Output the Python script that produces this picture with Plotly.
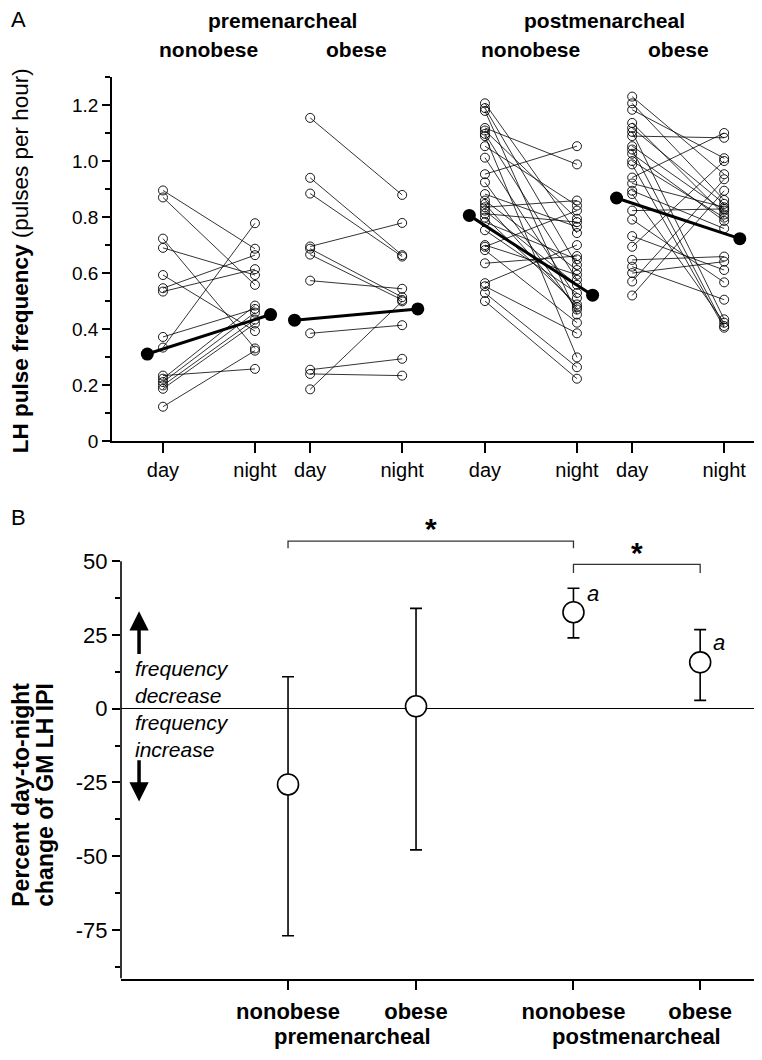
import plotly.graph_objects as go

# ---------------- Panel A data (LH pulse frequency, pulses per hour) ----------------
pre_non_day   = [0.896, 0.871, 0.724, 0.691, 0.594, 0.547, 0.535, 0.373, 0.335, 0.235, 0.224, 0.212, 0.200, 0.188, 0.124]
pre_non_night = [0.688, 0.559, 0.332, 0.594, 0.394, 0.665, 0.615, 0.473, 0.779, 0.259, 0.485, 0.460, 0.435, 0.421, 0.324]

pre_ob_day   = [1.155, 0.941, 0.885, 0.696, 0.688, 0.667, 0.574, 0.386, 0.256, 0.241, 0.186]
pre_ob_night = [0.880, 0.665, 0.660, 0.780, 0.515, 0.505, 0.545, 0.415, 0.295, 0.235, 0.500]

post_non_day = [1.207, 1.190, 1.180, 1.119, 1.110, 1.098, 1.090, 1.054, 1.013, 0.954, 0.925, 0.883, 0.860, 0.848,
                0.836, 0.824, 0.813, 0.799, 0.783, 0.754, 0.701, 0.695, 0.683, 0.636, 0.565, 0.554, 0.530, 0.501]
post_non_night = [0.744, 0.630, 0.453, 0.989, 0.795, 0.577, 0.300, 0.842, 0.512, 1.054, 0.471, 0.766, 0.612, 0.479,
                  0.860, 0.559, 0.783, 0.489, 0.650, 0.530, 0.595, 0.824, 0.424, 0.662, 0.701, 0.386, 0.265, 0.224]

post_ob_day = [1.231, 1.207, 1.184, 1.137, 1.119, 1.105, 1.090, 1.054, 1.042, 1.027, 1.001, 0.989, 0.942,
               0.921, 0.895, 0.883, 0.824, 0.792, 0.733, 0.695, 0.648, 0.624, 0.601, 0.571, 0.521]
post_ob_night = [0.954, 0.862, 1.011, 0.810, 0.848, 0.436, 1.084, 0.824, 0.412, 0.787, 0.799, 0.406, 1.101,
                 0.836, 0.760, 0.424, 0.830, 0.568, 0.612, 1.001, 0.660, 0.506, 0.642, 0.936, 0.895]

mean_day   = [0.312, 0.433, 0.807, 0.869]
mean_night = [0.453, 0.473, 0.522, 0.724]

day_pos   = [0, 1.6, 3.5, 5.1]
night_pos = [1, 2.6, 4.5, 6.1]
mean_shift = 0.17
group_names = ["nonobese", "obese", "nonobese", "obese"]
stage_names = ["premenarcheal", "postmenarcheal"]

# ---------------- Panel B data (percent day-to-night change of GM LH IPI) ----------------
b_pos    = [1, 2, 3.23, 4.22]
b_mean   = [-25.7, 0.8, 32.7, 15.7]
b_upper  = [10.8, 34.0, 40.8, 26.8]
b_lower  = [-77.0, -47.9, 24.0, 2.8]
b_letter = ["", "", "a", "a"]
b_letter_y = [None, None, 39.0, 22.5]

FONT = "Liberation Sans, Arial, sans-serif"
fig = go.Figure()

day_sets = [pre_non_day, pre_ob_day, post_non_day, post_ob_day]
night_sets = [pre_non_night, pre_ob_night, post_non_night, post_ob_night]
for g in range(4):
    xs, ys = [], []
    for d, n in zip(day_sets[g], night_sets[g]):
        xs += [day_pos[g], night_pos[g], None]
        ys += [d, n, None]
    fig.add_trace(go.Scatter(x=xs, y=ys, mode="lines+markers", xaxis="x", yaxis="y",
                             line=dict(color="black", width=0.8),
                             marker=dict(symbol="circle-open", size=9, color="black", line=dict(width=0.9)),
                             showlegend=False, hoverinfo="skip"))
for g in range(4):
    fig.add_trace(go.Scatter(x=[day_pos[g] - mean_shift, night_pos[g] + mean_shift],
                             y=[mean_day[g], mean_night[g]], mode="lines+markers", xaxis="x", yaxis="y",
                             line=dict(color="black", width=3),
                             marker=dict(symbol="circle", size=13, color="black"),
                             showlegend=False, hoverinfo="skip"))

# Panel B points
fig.add_trace(go.Scatter(
    x=b_pos, y=b_mean, mode="markers", xaxis="x2", yaxis="y2",
    marker=dict(symbol="circle", size=21, color="white", line=dict(color="black", width=1.6)),
    error_y=dict(type="data", symmetric=False,
                 array=[u - m for u, m in zip(b_upper, b_mean)],
                 arrayminus=[m - l for m, l in zip(b_mean, b_lower)],
                 color="black", thickness=1.6, width=6),
    showlegend=False, hoverinfo="skip"))

# significance brackets
br1_x = [b_pos[0], b_pos[0], b_pos[2], b_pos[2]]
br1_y = [54.4, 56.8, 56.8, 54.4]
br2_x = [b_pos[2], b_pos[2], b_pos[3], b_pos[3]]
br2_y = [46.0, 48.9, 48.9, 46.0]
for bx, by in [(br1_x, br1_y), (br2_x, br2_y)]:
    fig.add_trace(go.Scatter(x=bx, y=by, mode="lines", xaxis="x2", yaxis="y2",
                             line=dict(color="#333333", width=1.3), showlegend=False, hoverinfo="skip"))

# page offsets (page body margin): horizontal 8 px, vertical ~2 px
OX, OY = 8, 2
W, H = 762 - OX, 1060 - OY


def px(X):
    return (X - OX) / W


def py(Y):
    return 1 - (Y - OY) / H


ann = []
# Panel letters
ann.append(dict(text="A", x=px(9), y=py(14), xref="paper", yref="paper", xanchor="left", yanchor="middle",
                showarrow=False, font=dict(size=22, family=FONT)))
ann.append(dict(text="B", x=px(9), y=py(517), xref="paper", yref="paper", xanchor="left", yanchor="middle",
                showarrow=False, font=dict(size=22, family=FONT)))
# Panel A headers
for g in range(4):
    ann.append(dict(text="<b>%s</b>" % group_names[g], x=(day_pos[g] + night_pos[g]) / 2, y=py(44),
                    xref="x", yref="paper", showarrow=False, yanchor="middle",
                    font=dict(size=21, family=FONT)))
for s in range(2):
    ann.append(dict(text="<b>%s</b>" % stage_names[s],
                    x=(day_pos[2 * s] + night_pos[2 * s + 1]) / 2, y=py(15),
                    xref="x", yref="paper", showarrow=False, yanchor="middle",
                    font=dict(size=21, family=FONT)))
# Panel A y title
ann.append(dict(text="<b>LH pulse frequency</b> (pulses per hour)", x=px(20), y=py(258),
                xref="paper", yref="paper", textangle=-90, showarrow=False,
                xanchor="center", yanchor="middle", font=dict(size=22.5, family=FONT)))
# Panel B y title (two lines)
ann.append(dict(text="<b>Percent day-to-night</b>", x=px(21), y=py(797), xref="paper", yref="paper",
                textangle=-90, showarrow=False, xanchor="center", yanchor="middle",
                font=dict(size=23, family=FONT)))
ann.append(dict(text="<b>change of GM LH IPI</b>", x=px(45), y=py(797), xref="paper", yref="paper",
                textangle=-90, showarrow=False, xanchor="center", yanchor="middle",
                font=dict(size=23, family=FONT)))
# Panel B group labels
for s in range(2):
    ann.append(dict(text="<b>%s</b>" % stage_names[s], x=(b_pos[2 * s] + b_pos[2 * s + 1]) / 2, y=py(1041),
                    xref="x2", yref="paper", showarrow=False, yanchor="middle",
                    font=dict(size=22, family=FONT)))
# asterisks
ann.append(dict(text="<b>*</b>", x=(b_pos[0] + b_pos[2]) / 2, y=61.0, xref="x2", yref="y2",
                showarrow=False, font=dict(size=30, family=FONT)))
ann.append(dict(text="<b>*</b>", x=(b_pos[2] + b_pos[3]) / 2, y=53.0, xref="x2", yref="y2",
                showarrow=False, font=dict(size=30, family=FONT)))
# letters "a"
for i in range(4):
    if b_letter[i]:
        ann.append(dict(text="<i>%s</i>" % b_letter[i], x=b_pos[i] + 0.15, y=b_letter_y[i],
                        xref="x2", yref="y2", showarrow=False, xanchor="center",
                        font=dict(size=22, family=FONT)))
# direction arrows and texts
ann.append(dict(text="", x=-0.164, y=33.0, ax=-0.164, ay=18.0, xref="x2", yref="y2", axref="x2", ayref="y2",
                showarrow=True, arrowhead=2, arrowsize=1.1, arrowwidth=3.5, arrowcolor="black"))
ann.append(dict(text="", x=-0.164, y=-31.5, ax=-0.164, ay=-17.0, xref="x2", yref="y2", axref="x2", ayref="y2",
                showarrow=True, arrowhead=2, arrowsize=1.1, arrowwidth=3.5, arrowcolor="black"))
ann.append(dict(text="<i>frequency<br>decrease</i>", x=-0.215, y=8.9, xref="x2", yref="y2",
                showarrow=False, xanchor="left", align="left", yanchor="middle",
                font=dict(size=21, family=FONT)))
ann.append(dict(text="<i>frequency<br>increase</i>", x=-0.215, y=-9.3, xref="x2", yref="y2",
                showarrow=False, xanchor="left", align="left", yanchor="middle",
                font=dict(size=21, family=FONT)))

shapes = [dict(type="line", xref="x2 domain", yref="y2", x0=0, x1=0, y0=-91.5, y1=50,
               line=dict(color="black", width=1.6))]

fig.update_layout(
    width=W, height=H, margin=dict(l=0, r=0, t=0, b=0),
    paper_bgcolor="white", plot_bgcolor="white",
    font=dict(family=FONT, color="black"),
    annotations=ann, shapes=shapes,
    xaxis=dict(domain=[px(112), px(757)], range=[-0.554, 6.457], anchor="y",
               tickvals=day_pos + night_pos, ticktext=["day"] * 4 + ["night"] * 4,
               ticks="outside", ticklen=10, tickwidth=1.5, tickcolor="black",
               showline=True, linewidth=1.6, linecolor="black", showgrid=False, zeroline=False,
               tickfont=dict(size=20, family=FONT)),
    yaxis=dict(domain=[py(440), py(72)], range=[0, 1.3], anchor="x",
               tickvals=[0, 0.2, 0.4, 0.6, 0.8, 1.0, 1.2],
               ticktext=["0", "0.2", "0.4", "0.6", "0.8", "1.0", "1.2"],
               ticks="outside", ticklen=8, tickwidth=1.5, tickcolor="black",
               minor=dict(tickvals=[0.1, 0.3, 0.5, 0.7, 0.9, 1.1, 1.3], ticks="outside", ticklen=5,
                          tickwidth=1.5, tickcolor="black"),
               showline=True, linewidth=1.6, linecolor="black", showgrid=False, zeroline=False,
               tickfont=dict(size=19, family=FONT)),
    xaxis2=dict(domain=[px(121), px(757)], range=[-0.305, 4.664], anchor="y2",
                tickvals=b_pos, ticktext=["<b>%s</b>" % n for n in group_names],
                ticks="outside", ticklen=10, tickwidth=1.5, tickcolor="black",
                showline=True, linewidth=1.6, linecolor="black", showgrid=False, zeroline=False,
                tickfont=dict(size=22, family=FONT), ticklabelstandoff=2),
    yaxis2=dict(domain=[py(982.7), py(516.3)], range=[-91.5, 65], anchor="x2",
                tickvals=[-75, -50, -25, 0, 25, 50], ticktext=["-75", "-50", "-25", "0", "25", "50"],
                ticks="outside", ticklen=8, tickwidth=1.5, tickcolor="black",
                minor=dict(tickvals=[-87.5, -62.5, -37.5, -12.5, 12.5, 37.5], ticks="outside", ticklen=5,
                           tickwidth=1.5, tickcolor="black"),
                showline=False, showgrid=False, zeroline=True, zerolinecolor="black", zerolinewidth=1,
                tickfont=dict(size=22, family=FONT)),
)

fig.write_html("out.html")
